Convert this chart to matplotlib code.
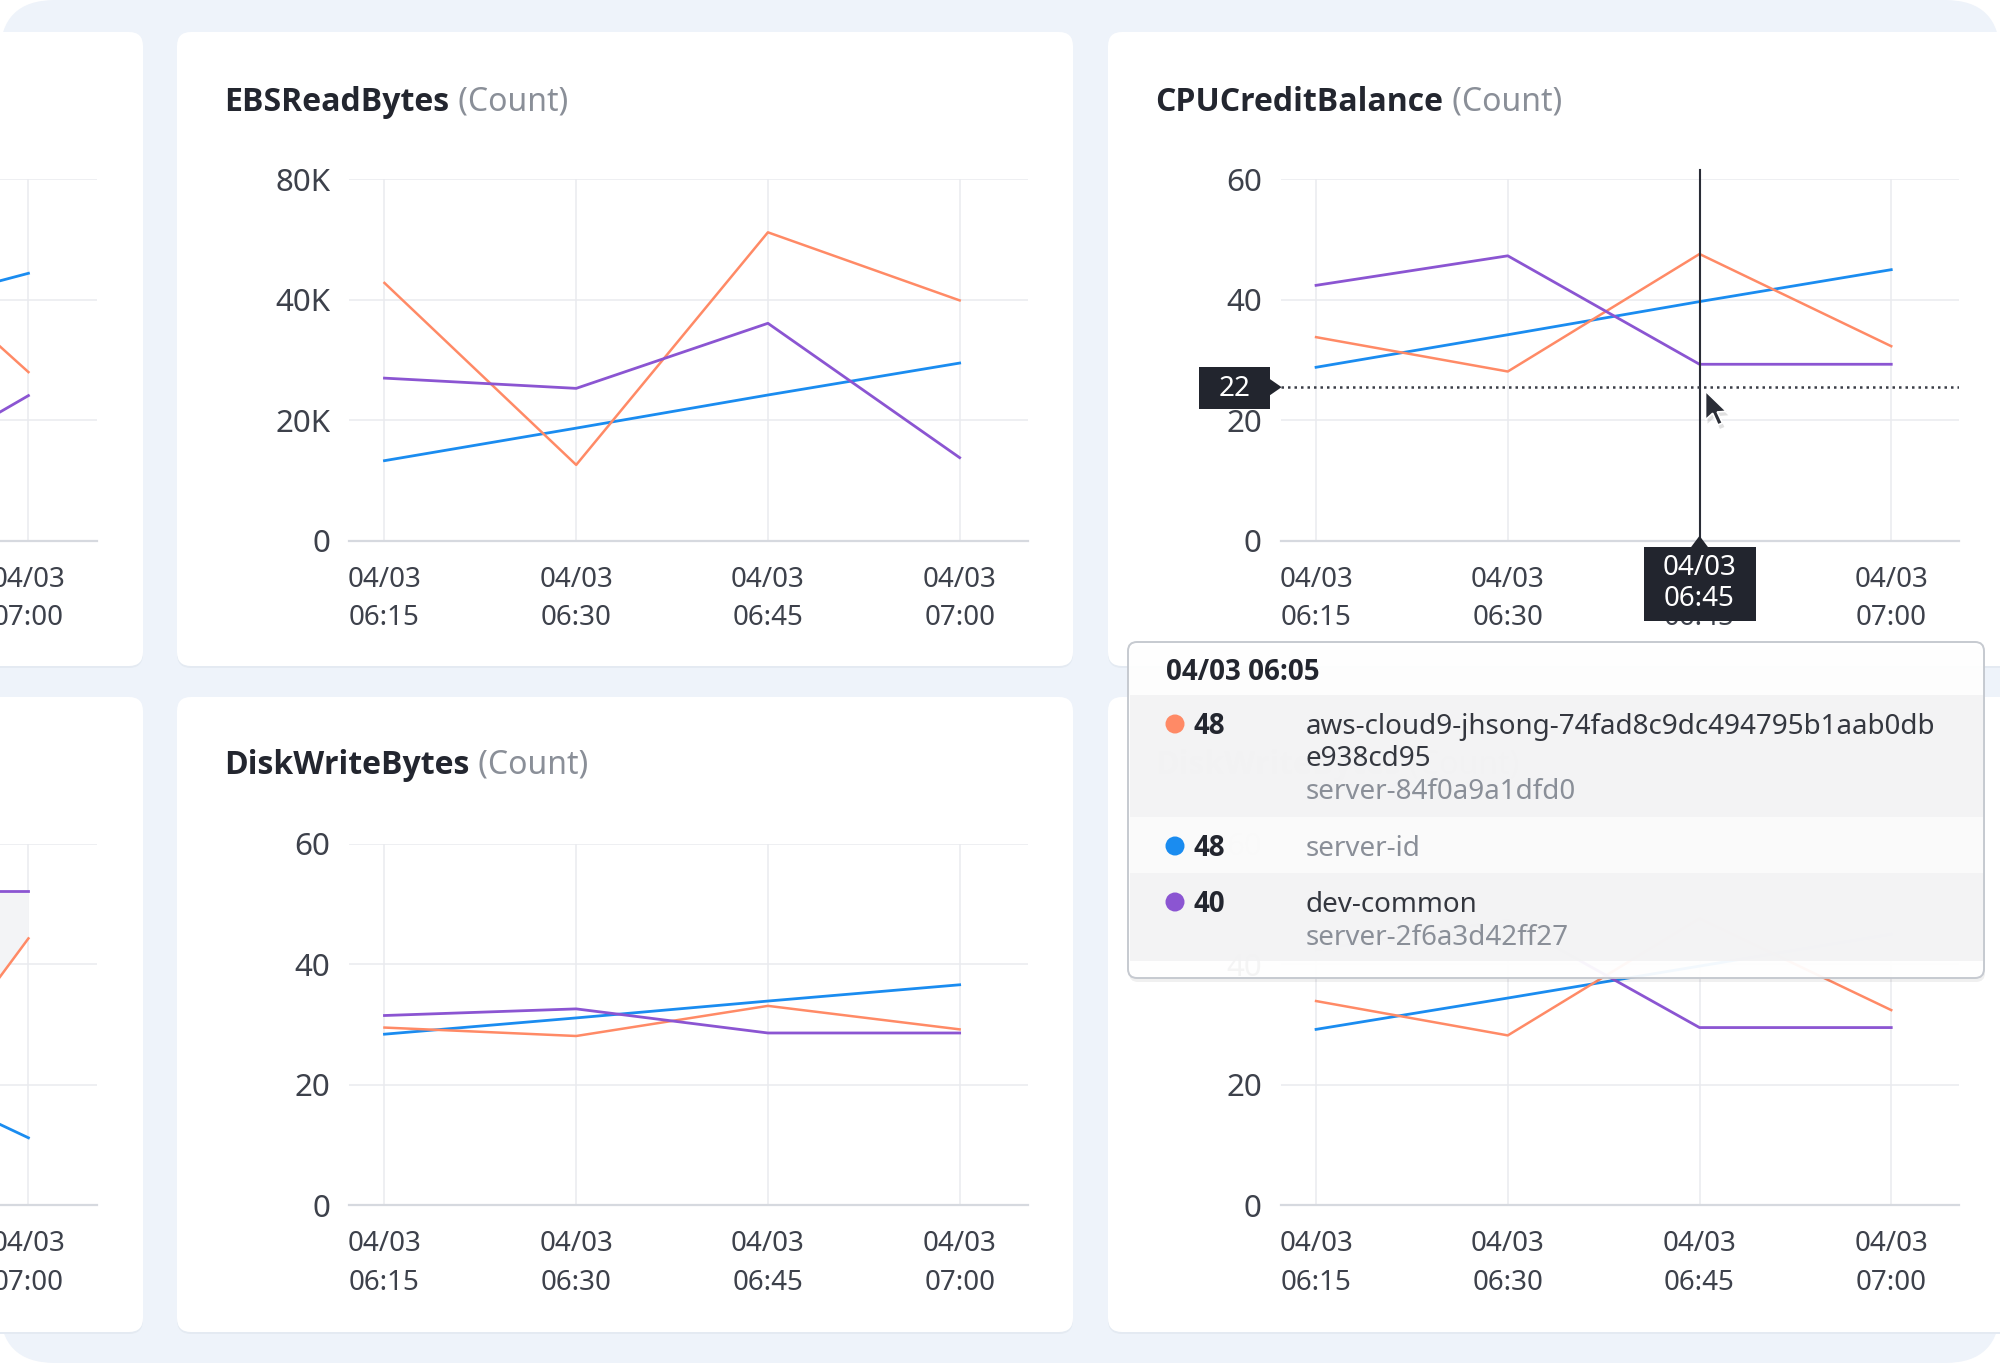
import numpy as np
import matplotlib.pyplot as plt
from matplotlib import font_manager
from matplotlib.patches import FancyBboxPatch, Rectangle, Polygon, Circle

plt.rcParams['font.family'] = ['Noto Sans', 'DejaVu Sans']


def bold_family():
    # first installed family that really has a bold face
    for fam in ['Noto Sans', 'Open Sans', 'Lato', 'Roboto', 'Inter', 'DejaVu Sans']:
        for f in font_manager.fontManager.ttflist:
            w = f.weight
            if isinstance(w, str):
                w = {'bold': 700, 'semibold': 600, 'demibold': 600, 'heavy': 800, 'black': 900}.get(w, 400)
            if f.name == fam and w >= 600:
                return [fam, 'DejaVu Sans']
    return ['DejaVu Sans']


BOLD = bold_family()

W, H = 2000, 1363
nan = np.nan

# ---- data ----
times = ['04/03\n06:15', '04/03\n06:30', '04/03\n06:45', '04/03\n07:00']

ebs_orange = [42800, 12600, 51200, 39900]
ebs_purple = [27000, 25300, 36100, 13800]
ebs_blue = [13300, 18700, 24200, 29500]
ebs_ticks = [0, 20000, 40000, 60000]
ebs_ticklabels = ['0', '20K', '40K', '80K']

cpu_orange = [33.8, 28.1, 47.6, 32.3]
cpu_purple = [42.4, 47.3, 29.3, 29.3]
cpu_blue = [28.8, 34.2, 39.7, 45.0]

disk_orange = [29.5, 28.1, 33.1, 29.2]
disk_purple = [31.5, 32.6, 28.6, 28.6]
disk_blue = [28.4, 31.1, 33.9, 36.6]

# DiskWriteBytes chart hidden under the tooltip
disk2_orange = [33.9, 28.2, 47.6, 32.4]
disk2_purple = [42.4, 47.3, 29.5, 29.5]
disk2_blue = [29.2, 34.4, 39.7, 45.0]

# charts cut off on the left edge (only the last segment is visible)
left_top_orange = [nan, nan, 56.7, 28.0]
left_top_purple = [nan, nan, 5.7, 24.1]
left_top_blue = [nan, nan, 36.0, 44.4]
left_bot_orange = [nan, nan, 1.3, 44.3]
left_bot_purple = [nan, nan, 52.2, 52.2]
left_bot_blue = [nan, nan, 26.2, 11.2]

count_ticks = [0, 20, 40, 60]
count_ticklabels = ['0', '20', '40', '60']

# hover state
hover_index = 2
hover_value = 25.5
hover_label = '22'
tip_time = '04/03 06:05'
tip_values = ['48', '48', '40']
tip_names = ['aws-cloud9-jhsong-74fad8c9dc494795b1aab0db\ne938cd95', '', 'dev-common']
tip_ids = ['server-84f0a9a1dfd0', 'server-id', 'server-2f6a3d42ff27']

ORANGE = '#ff8a66'
BLUE = '#1a8cf0'
PURPLE = '#8b55d2'
DARK = '#23262f'
TICK = '#3d414b'
GREY = '#8a8f98'
tip_colors = [ORANGE, BLUE, PURPLE]

fig = plt.figure(figsize=(W / 100, H / 100), dpi=100, facecolor='white')

# background layer in pixel coordinates
bg = fig.add_axes([0, 0, 1, 1], zorder=-10)
bg.set_xlim(0, W)
bg.set_ylim(H, 0)
bg.axis('off')
bg.add_patch(FancyBboxPatch((0, 0), W, H, boxstyle='round,pad=0,rounding_size=55',
                            fc='#eef3fa', ec='none'))

panels = [(-60, 32, 143, 666), (177, 32, 1073, 666), (1108, 32, 2060, 666),
          (-60, 697, 143, 1332), (177, 697, 1073, 1332), (1108, 697, 2060, 1332)]
for x0, y0, x1, y1 in panels:
    bg.add_patch(FancyBboxPatch((x0, y0 + 2), x1 - x0, y1 - y0, boxstyle='round,pad=0,rounding_size=14',
                                fc='#e4eaf2', ec='none'))
    bg.add_patch(FancyBboxPatch((x0, y0), x1 - x0, y1 - y0, boxstyle='round,pad=0,rounding_size=14',
                                fc='white', ec='none'))


def title(x, y, name):
    t = bg.text(x, y, name, fontsize=23, fontweight='bold', family=BOLD, color=DARK,
                va='baseline', ha='left')
    bg.annotate(' (Count)', xy=(1, 0), xycoords=t, fontsize=23, color=GREY, va='bottom', ha='left')


title(224.5, 110.6, 'EBSReadBytes')
title(1155.5, 110.6, 'CPUCreditBalance')
title(224.5, 773.6, 'DiskWriteBytes')
title(1155.5, 773.6, 'DiskWriteBytes')

AX_W, AX_H = 678.7, 361.5
x = np.arange(len(times))


def chart(left, top, ticks, ticklabels, orange, purple, blue, shade=False):
    ax = fig.add_axes([left / W, 1 - (top + AX_H) / H, AX_W / W, AX_H / H])
    ax.patch.set_alpha(0)
    ax.set_xlim(-0.185, 3.355)
    ax.set_ylim(ticks[0], ticks[-1])
    ax.set_xticks(x)
    ax.set_xticklabels(times, linespacing=1.5)
    ax.set_yticks(ticks)
    ax.set_yticklabels(ticklabels)
    ax.grid(True, color='#e9ebef', lw=1.1)
    ax.set_axisbelow(True)
    for s in ax.spines.values():
        s.set_visible(False)
    ax.axhline(ticks[0], color='#d6d9df', lw=1.6, zorder=1.5, clip_on=False)
    ax.tick_params(axis='both', length=0, colors=TICK)
    ax.tick_params(axis='x', pad=18, labelsize=20)
    ax.tick_params(axis='y', pad=13.5, labelsize=22.5)
    if shade:
        ax.fill_between(x[2:], orange[2:], purple[2:], color='#f3f4f6', lw=0, zorder=1.6)
    ax.plot(x, blue, color=BLUE, lw=2.0, zorder=3)
    ax.plot(x, orange, color=ORANGE, lw=1.8, zorder=3)
    ax.plot(x, purple, color=PURPLE, lw=2.0, zorder=3)
    return ax


TOP1, TOP2 = 179.3, 843.8
LEFTS = [-582.2, 349.0, 1280.6]

chart(LEFTS[0], TOP1, count_ticks, count_ticklabels, left_top_orange, left_top_purple, left_top_blue)
chart(LEFTS[1], TOP1, ebs_ticks, ebs_ticklabels, ebs_orange, ebs_purple, ebs_blue)
ax_cpu = chart(LEFTS[2], TOP1, count_ticks, count_ticklabels, cpu_orange, cpu_purple, cpu_blue)
chart(LEFTS[0], TOP2, count_ticks, count_ticklabels, left_bot_orange, left_bot_purple, left_bot_blue, shade=True)
chart(LEFTS[1], TOP2, count_ticks, count_ticklabels, disk_orange, disk_purple, disk_blue)
chart(LEFTS[2], TOP2, count_ticks, count_ticklabels, disk2_orange, disk2_purple, disk2_blue)

# crosshair on the CPUCreditBalance chart
ax_cpu.plot([hover_index, hover_index], [0, 61.6], color='#2a2d37', lw=1.5, clip_on=False, zorder=4)
ax_cpu.plot(ax_cpu.get_xlim(), [hover_value, hover_value], color='#3a3d46', lw=1.8,
            ls=(0, (1, 1.6)), zorder=4)

# UI overlay in pixel coordinates
ui = fig.add_axes([0, 0, 1, 1], zorder=5)
ui.set_xlim(0, W)
ui.set_ylim(H, 0)
ui.axis('off')
ui.patch.set_alpha(0)


def to_px(ax, xv, yv):
    px, py = ax.transData.transform((xv, yv))
    return px, H - py


cx, base_y = to_px(ax_cpu, hover_index, 0)
ax_left, hy = to_px(ax_cpu, ax_cpu.get_xlim()[0], hover_value)

# y value flag
ui.add_patch(Rectangle((ax_left - 82, hy - 20), 71, 42, fc='#22252e', ec='none'))
ui.add_patch(Polygon([(ax_left - 12, hy - 9), (ax_left + 1, hy), (ax_left - 12, hy + 9)],
                     closed=True, fc='#22252e', ec='none'))
ui.text(ax_left - 46, hy + 2, hover_label, color='white', fontsize=20, ha='center', va='center')

# x value flag
ui.add_patch(Rectangle((cx - 56, base_y + 6), 112, 74, fc='#22252e', ec='none'))
ui.add_patch(Polygon([(cx - 9, base_y + 7), (cx, base_y - 5), (cx + 9, base_y + 7)],
                     closed=True, fc='#22252e', ec='none'))
ui.text(cx, base_y + 43, times[hover_index], color='white', fontsize=20, ha='center', va='center',
        linespacing=1.15)

# mouse pointer
tip_x, tip_y = cx + 6, hy + 4
arrow = np.array([(0, 0), (0, 22), (5.5, 17), (9.5, 26), (13, 24.5), (9, 16), (16, 15.5)]) * 1.3
ui.add_patch(Polygon(arrow + (tip_x + 2, tip_y + 4), closed=True, fc='#000000', alpha=0.12, ec='none'))
ui.add_patch(Polygon(arrow + (tip_x, tip_y), closed=True, fc='#2a2d36', ec='white', lw=1.2, zorder=6))

# tooltip
T0, T1, TT, TB = 1128, 1984, 642, 978
ui.add_patch(FancyBboxPatch((T0 + 1, TT + 4), T1 - T0, TB - TT, boxstyle='round,pad=0,rounding_size=9',
                            fc='black', alpha=0.06, ec='none'))
ui.add_patch(FancyBboxPatch((T0, TT), T1 - T0, TB - TT, boxstyle='round,pad=0,rounding_size=9',
                            fc='white', alpha=0.95, ec='#c3c7ce', lw=1.4))
rows = [(695, 817, '#f2f2f3'), (817, 873, '#fafafa'), (873, 961, '#f2f2f3')]
for r0, r1, col in rows:
    ui.add_patch(Rectangle((T0 + 1.5, r0), T1 - T0 - 3, r1 - r0, fc=col, alpha=0.9, ec='none'))

ui.text(1166, 673, tip_time, fontsize=20, fontweight='bold', family=BOLD, color=DARK,
        ha='left', va='center')
for i, (val, name, sid) in enumerate(zip(tip_values, tip_names, tip_ids)):
    ytop = rows[i][0] + 32
    ui.add_patch(Circle((1175, ytop - 3), 9.5, fc=tip_colors[i], ec='none'))
    ui.text(1193, ytop, val, fontsize=20, fontweight='bold', family=BOLD, color=DARK,
            ha='left', va='center')
    n_lines = 0
    if name:
        for line in name.split('\n'):
            ui.text(1305.5, ytop + 32 * n_lines, line, fontsize=20, color='#34373f', ha='left', va='center')
            n_lines += 1
    ui.text(1305.5, ytop + 32 * n_lines + (1 if n_lines else 0), sid, fontsize=20, color=GREY,
            ha='left', va='center')

fig.savefig('out.png', dpi=100, facecolor='white')
